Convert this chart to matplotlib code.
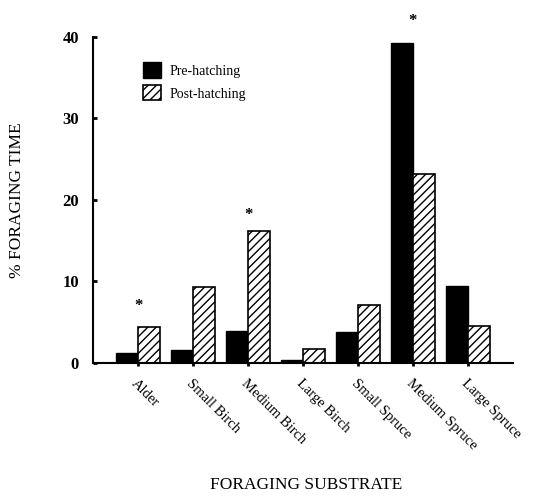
import matplotlib
matplotlib.use("Agg")
import matplotlib.pyplot as plt
import numpy as np

categories = ["Alder", "Small Birch", "Medium Birch", "Large Birch",
              "Small Spruce", "Medium Spruce", "Large Spruce"]
pre_hatching = [1.2, 1.6, 3.9, 0.4, 3.8, 39.3, 9.4]
post_hatching = [4.4, 9.3, 16.2, 1.7, 7.1, 23.2, 4.5]
significant = [True, False, True, False, False, True, False]
star_height = [7.0, None, 18.1, None, None, 41.9, None]
y_ticks = [0, 10, 20, 30, 40]

plt.rcParams['font.family'] = ['Liberation Serif', 'DejaVu Serif']
plt.rcParams['hatch.linewidth'] = 1.0

fig = plt.figure(figsize=(5.33, 5.01), dpi=100)
ax = fig.add_axes([0.1745, 0.2754, 0.788, 0.651])

x = np.arange(len(categories))
w = 0.4
ax.bar(x - w / 2, pre_hatching, width=w, color="black", edgecolor="black",
       linewidth=1, label="Pre-hatching")
ax.bar(x + w / 2, post_hatching, width=w, color="white", edgecolor="black",
       linewidth=1.2, hatch="////", label="Post-hatching")

for xi, sig, h in zip(x, significant, star_height):
    if sig:
        ax.text(xi, h, "*", ha="center", va="center", fontsize=12,
                fontweight="bold", clip_on=False)

ax.set_xlim(-0.82, 6.82)
ax.set_ylim(0, 40)
ax.set_yticks(y_ticks)
ax.set_yticklabels([str(t) for t in y_ticks], fontsize=12, fontweight="bold")
ax.set_xticks(x)
ax.set_xticklabels(categories, rotation=-45, ha="left", va="top",
                   rotation_mode="anchor", fontsize=10.5)
ax.tick_params(axis="y", direction="in", length=3, width=2, pad=10)
ax.tick_params(axis="x", direction="out", length=2, width=2, pad=8)

for s in ["top", "right"]:
    ax.spines[s].set_visible(False)
for s in ["left", "bottom"]:
    ax.spines[s].set_linewidth(1.5)

ax.set_ylabel("% FORAGING TIME", fontsize=12.5)
ax.yaxis.set_label_coords(-0.162, 0.5)
fig.text(0.574, 0.016, "FORAGING SUBSTRATE", ha="center", va="bottom", fontsize=12.5)

leg = ax.legend(loc="upper left", bbox_to_anchor=(0.09, 0.96), frameon=False,
                fontsize=10, handlelength=1.3, handleheight=1.3,
                handletextpad=0.6, labelspacing=0.55)

fig.savefig("out.png", dpi=100)
